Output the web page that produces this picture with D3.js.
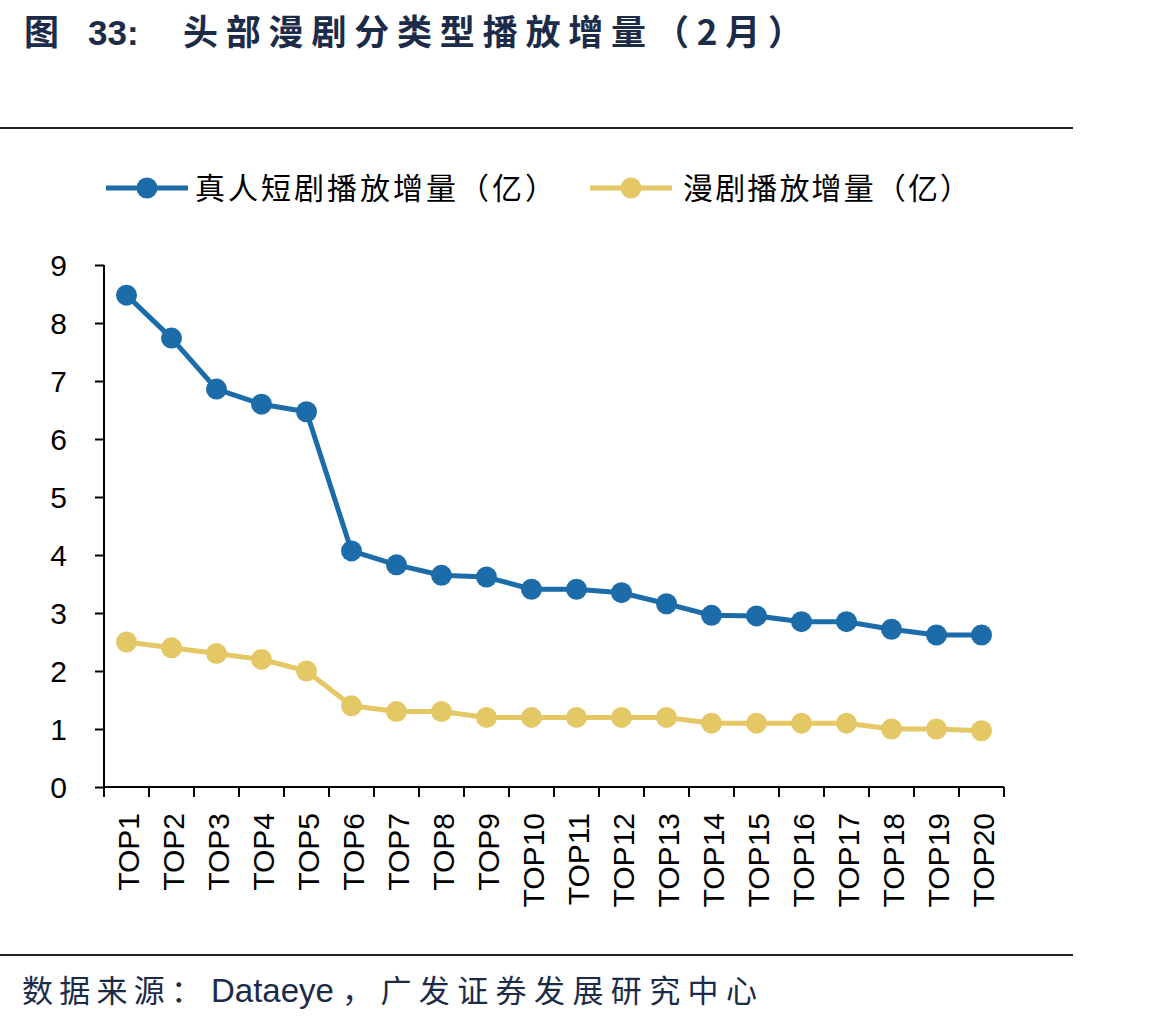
<!DOCTYPE html>
<html><head><meta charset="utf-8">
<script src="https://cdn.jsdelivr.net/npm/d3@7"></script>
<style>body{margin:0;background:#fff}</style>
</head><body>
<svg id="chart" width="1168" height="1024"></svg>
<script>
const categories = ["TOP1","TOP2","TOP3","TOP4","TOP5","TOP6","TOP7","TOP8","TOP9","TOP10","TOP11","TOP12","TOP13","TOP14","TOP15","TOP16","TOP17","TOP18","TOP19","TOP20"];
const liveAction = [8.48,7.74,6.86,6.60,6.47,4.07,3.83,3.65,3.62,3.41,3.41,3.35,3.16,2.96,2.95,2.85,2.85,2.72,2.62,2.62];
const animated = [2.5,2.4,2.3,2.2,2.0,1.4,1.3,1.3,1.2,1.2,1.2,1.2,1.2,1.1,1.1,1.1,1.1,1.0,1.0,0.97];
const seriesNames = ["真人短剧播放增量（亿）","漫剧播放增量（亿）"];
const yTicks = [0,1,2,3,4,5,6,7,8,9];
const colors = ["#1b6ca8","#e5c866"];

const svg = d3.select("#chart");
const latin = "'Liberation Sans', Arial, sans-serif";
const cjk = "'Noto Sans CJK SC', sans-serif";
const navy = "#1c2b48";

// title
svg.append("text").attr("x",24).attr("y",45).attr("font-family",cjk).attr("font-weight","bold")
  .attr("font-size",35).attr("fill",navy).text("图");
svg.append("text").attr("x",88).attr("y",45).attr("font-family",latin).attr("font-weight","bold")
  .attr("font-size",35).attr("fill",navy).text("33:");
svg.append("text").attr("x",183).attr("y",45).attr("font-family",cjk).attr("font-weight","bold")
  .attr("font-size",35).attr("fill",navy)
  .attr("textLength",620).attr("lengthAdjust","spacing")
  .text("头部漫剧分类型播放增量（2月）");

svg.append("line").attr("x1",0).attr("x2",1073).attr("y1",128).attr("y2",128).attr("stroke","#222").attr("stroke-width",2);
svg.append("line").attr("x1",0).attr("x2",1073).attr("y1",955).attr("y2",955).attr("stroke","#222").attr("stroke-width",2);

// footer
svg.append("text").attr("x",22).attr("y",1002).attr("font-family",cjk).attr("font-size",31).attr("fill",navy)
  .attr("textLength",180).attr("lengthAdjust","spacing").text("数据来源：");
svg.append("text").attr("x",211).attr("y",1002).attr("font-family",latin).attr("font-size",33).attr("fill",navy)
  .text("Dataeye");
svg.append("text").attr("x",342).attr("y",1002).attr("font-family",cjk).attr("font-size",31).attr("fill",navy)
  .attr("textLength",415).attr("lengthAdjust","spacing").text("，广发证券发展研究中心");

const x = d3.scaleBand().domain(categories).range([104,1004]);
const y = d3.scaleLinear().domain([0,9]).range([787,265]);

// axes
const yAxis = svg.append("g").attr("transform","translate(104,0)")
  .call(d3.axisLeft(y).tickValues(yTicks).tickSize(9).tickPadding(28).tickFormat(d3.format("d")));
yAxis.select(".domain").attr("stroke","#000").attr("stroke-width",2).attr("d","M0,265V787");
yAxis.selectAll(".tick line").attr("stroke","#000").attr("stroke-width",2);
yAxis.selectAll("text").attr("font-family",latin).attr("font-size",30).attr("fill","#000").attr("dy","0.36em")
  .attr("x",-37);

const xAxis = svg.append("g").attr("transform","translate(0,787)")
  .call(d3.axisBottom(x).tickSize(0).tickFormat(""));
xAxis.select(".domain").attr("stroke","#000").attr("stroke-width",2).attr("d","M104,0H1004");
xAxis.selectAll(".tick").remove();
const edges = categories.map(c=>x(c)).concat([x(categories[categories.length-1])+x.bandwidth()]);
xAxis.selectAll("line.edge").data(edges).join("line").attr("class","edge")
  .attr("x1",d=>d).attr("x2",d=>d).attr("y1",0).attr("y2",10).attr("stroke","#000").attr("stroke-width",2);
xAxis.selectAll("text.lab").data(categories).join("text").attr("class","lab")
  .attr("transform",d=>`translate(${x(d)+x.bandwidth()/2+12},26) rotate(-90)`)
  .attr("text-anchor","end").attr("font-family",latin).attr("font-size",30).attr("fill","#000")
  .text(d=>d);

// series
const cx = d => x(d)+x.bandwidth()/2;
[liveAction, animated].forEach((vals,i)=>{
  const line = d3.line().x((d,j)=>cx(categories[j])).y(d=>y(d));
  svg.append("path").datum(vals).attr("d",line).attr("fill","none")
    .attr("stroke",colors[i]).attr("stroke-width",5).attr("stroke-linejoin","round");
  svg.append("g").selectAll("circle").data(vals).join("circle")
    .attr("cx",(d,j)=>cx(categories[j])).attr("cy",d=>y(d)).attr("r",10.5).attr("fill",colors[i]);
});

// legend
const legendItems = [{x:106,tx:195,len:360},{x:590,tx:683,len:287}];
legendItems.forEach((it,i)=>{
  const g = svg.append("g");
  g.append("line").attr("x1",it.x).attr("x2",it.x+82).attr("y1",188).attr("y2",188)
    .attr("stroke",colors[i]).attr("stroke-width",5);
  g.append("circle").attr("cx",it.x+41).attr("cy",188).attr("r",10.5).attr("fill",colors[i]);
  g.append("text").attr("x",it.tx).attr("y",199).attr("font-family",cjk).attr("font-size",30).attr("fill","#000")
    .attr("textLength",it.len).attr("lengthAdjust","spacing")
    .text(seriesNames[i]);
});
</script>
</body></html>
